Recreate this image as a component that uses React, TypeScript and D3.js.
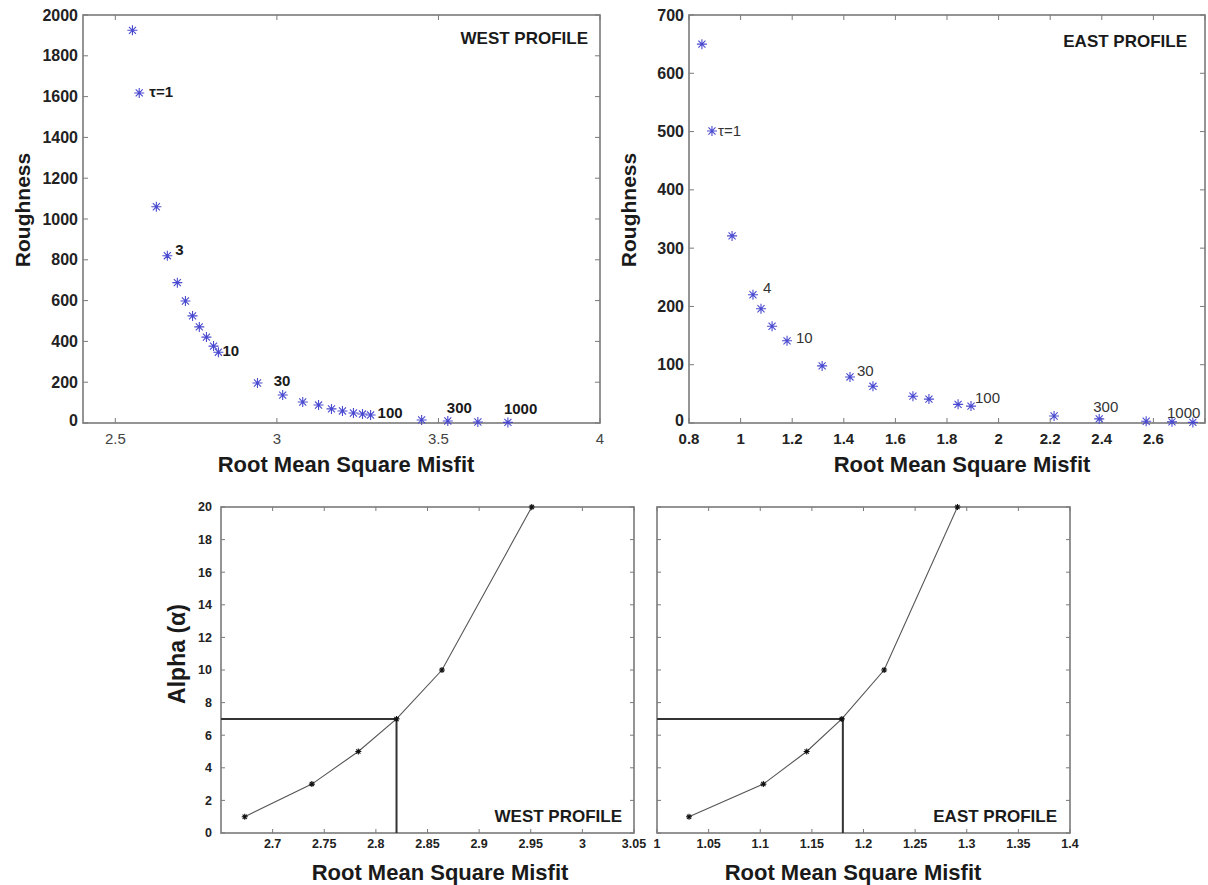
import React from "react";
import * as d3 from "d3";

// ---- data ----
const westRms = [2.553, 2.574, 2.627, 2.661, 2.692, 2.717, 2.739, 2.76, 2.782, 2.804, 2.819, 2.94, 3.018, 3.08, 3.129, 3.169, 3.203, 3.237, 3.265, 3.29, 3.448, 3.529, 3.622, 3.715];
const westRough = [1925, 1618, 1060, 820, 688, 598, 525, 471, 421, 377, 347, 196, 137, 103, 88, 69, 59, 49, 44, 39, 15, 10, 5, 3];
const westLabels = [
  { i: 1, text: "τ=1" },
  { i: 3, text: "3" },
  { i: 10, text: "10" },
  { i: 12, text: "30" },
  { i: 19, text: "100" },
  { i: 21, text: "300" },
  { i: 23, text: "1000" },
];

const eastRms = [0.85, 0.889, 0.967, 1.048, 1.079, 1.122, 1.18, 1.316, 1.424, 1.513, 1.668, 1.73, 1.843, 1.893, 2.215, 2.39, 2.572, 2.672, 2.753];
const eastRough = [650, 501, 321, 220, 196, 166, 141, 98, 79, 63, 46, 41, 32, 29, 12, 7, 3, 2, 1];
const eastLabels = [
  { i: 1, text: "τ=1" },
  { i: 3, text: "4" },
  { i: 6, text: "10" },
  { i: 8, text: "30" },
  { i: 13, text: "100" },
  { i: 15, text: "300" },
  { i: 17, text: "1000" },
];

const alphas = [1, 3, 5, 7, 10, 20];
const westAlphaRms = [2.673, 2.738, 2.783, 2.82, 2.864, 2.951];
const eastAlphaRms = [1.031, 1.103, 1.145, 1.179, 1.22, 1.291];
const chosenAlpha = 7;
const westChosenRms = 2.82;
const eastChosenRms = 1.18;

const tlXTicks = [2.5, 3, 3.5, 4];
const tlYTicks = [0, 200, 400, 600, 800, 1000, 1200, 1400, 1600, 1800, 2000];
const trXTicks = [0.8, 1, 1.2, 1.4, 1.6, 1.8, 2, 2.2, 2.4, 2.6, 2.8];
const trXLabels = ["0.8", "1", "1.2", "1.4", "1.6", "1.8", "2", "2.2", "2.4", "2.6", ""];
const trYTicks = [0, 100, 200, 300, 400, 500, 600, 700];
const blXTicks = [2.7, 2.75, 2.8, 2.85, 2.9, 2.95, 3, 3.05];
const brXTicks = [1, 1.05, 1.1, 1.15, 1.2, 1.25, 1.3, 1.35, 1.4];
const alphaTicks = [0, 2, 4, 6, 8, 10, 12, 14, 16, 18, 20];

const FONT = "'Liberation Sans', Arial, Helvetica, sans-serif";
const FRAME = "#7a7a7a";

// label offsets (px) relative to the labelled point
const westOffsets: Record<string, [number, number]> = {
  "τ=1": [10, 4], "3": [8, -1], "10": [4, 4], "30": [-9, -9], "100": [7, 3], "300": [-1, -8], "1000": [-4, -8],
};
const eastOffsets: Record<string, [number, number]> = {
  "τ=1": [6, 5], "4": [10, -2], "10": [9, 2], "30": [7, -1], "100": [4, -3], "300": [-6, -7], "1000": [-5, -4],
};

const Star = ({ x, y, r, color, w }: any) => {
  const d = [0, 45, 90, 135]
    .map((a) => {
      const rad = (a * Math.PI) / 180;
      const dx = Math.cos(rad) * r;
      const dy = Math.sin(rad) * r;
      return `M${x - dx},${y - dy}L${x + dx},${y + dy}`;
    })
    .join("");
  return <path d={d} stroke={color} strokeWidth={w} fill="none" />;
};

const Frame = ({ x, y, xTicks, yTicks, tick }: any) => {
  const [l, r] = x.range();
  const [b, t] = y.range();
  return (
    <g>
      {xTicks.map((v: number, k: number) => (
        <g key={"x" + k} stroke={FRAME} strokeWidth={1}>
          <line x1={x(v)} x2={x(v)} y1={b} y2={b - tick} />
          <line x1={x(v)} x2={x(v)} y1={t} y2={t + tick} />
        </g>
      ))}
      {yTicks.map((v: number, k: number) => (
        <g key={"y" + k} stroke={FRAME} strokeWidth={1}>
          <line x1={l} x2={l + tick} y1={y(v)} y2={y(v)} />
          <line x1={r} x2={r - tick} y1={y(v)} y2={y(v)} />
        </g>
      ))}
      <rect x={l} y={t} width={r - l} height={b - t} fill="none" stroke={FRAME} strokeWidth={1.6} />
    </g>
  );
};

const ScatterPanel = (props: any) => {
  const { left, right, top, bottom, xDomain, yDomain, xs, ys, labels, offsets, xTicks, xLabels, yTicks,
    xLabelWeight, xLabelColor, labelWeight, labelColor, title, titleX, titleY, xTitleX, yTitleY, yTitleX } = props;
  const x = d3.scaleLinear().domain(xDomain).range([left, right]);
  const y = d3.scaleLinear().domain(yDomain).range([bottom, top]);
  return (
    <g fontFamily={FONT}>
      <Frame x={x} y={y} xTicks={xTicks} yTicks={yTicks} tick={5} />
      {yTicks.map((v: number) => (
        <text key={v} x={left - 5} y={y(v) - (v === 0 ? 3 : 0)} dy="0.35em" textAnchor="end" fontSize={16}
          fontWeight="bold" fill="#222">
          {v}
        </text>
      ))}
      {xTicks.map((v: number, k: number) => (
        <text key={v} x={x(v)} y={bottom + 16} dy="0.35em" textAnchor="middle" fontSize={15}
          fontWeight={xLabelWeight} fill={xLabelColor}>
          {xLabels ? xLabels[k] : v}
        </text>
      ))}
      {xs.map((v: number, k: number) => (
        <Star key={k} x={x(v)} y={y(ys[k])} r={5} color="#4a4ad0" w={1.1} />
      ))}
      {labels.map((lb: any) => {
        const [dx, dy] = offsets[lb.text];
        return (
          <text key={lb.text} x={x(xs[lb.i]) + dx} y={y(ys[lb.i]) + dy} fontSize={15} fontWeight={labelWeight} fill={labelColor}>
            {lb.text}
          </text>
        );
      })}
      <text x={titleX} y={titleY} textAnchor="end" fontSize={17} fontWeight="bold" fill="#1a1a1a">{title}</text>
      <text x={xTitleX} y={472} textAnchor="middle" fontSize={22} fontWeight="bold" fill="#1a1a1a">Root Mean Square Misfit</text>
      <text transform={`translate(${yTitleX},${yTitleY}) rotate(-90)`} textAnchor="middle" fontSize={21}
        fontWeight="bold" fill="#1a1a1a">Roughness</text>
    </g>
  );
};

const AlphaPanel = (props: any) => {
  const { left, right, top, bottom, xDomain, xs, xTicks, chosenRms, showY, title, titleX, xTitleX } = props;
  const x = d3.scaleLinear().domain(xDomain).range([left, right]);
  const y = d3.scaleLinear().domain([0, 20]).range([bottom, top]);
  const line = d3.line<number>().x((d) => x(d)).y((d, k) => y(alphas[k]));
  return (
    <g fontFamily={FONT}>
      <Frame x={x} y={y} xTicks={xTicks} yTicks={alphaTicks} tick={4} />
      {showY &&
        alphaTicks.map((v) => (
          <text key={v} x={left - 9} y={y(v)} dy="0.35em" textAnchor="end" fontSize={12.5} fontWeight="bold" fill="#222">
            {v}
          </text>
        ))}
      {xTicks.map((v: number) => (
        <text key={v} x={x(v)} y={bottom + 11} dy="0.35em" textAnchor="middle" fontSize={12.5} fontWeight="bold" fill="#222">
          {v}
        </text>
      ))}
      <path d={line(xs) || ""} fill="none" stroke="#555" strokeWidth={1.1} />
      <path
        d={`M${left},${y(chosenAlpha)}H${x(chosenRms)}V${bottom}`}
        fill="none" stroke="#333" strokeWidth={2}
      />
      {xs.map((v: number, k: number) => (
        <Star key={k} x={x(v)} y={y(alphas[k])} r={3} color="#111" w={1.1} />
      ))}
      <text x={titleX} y={822} textAnchor="end" fontSize={17} fontWeight="bold" fill="#1a1a1a">{title}</text>
      <text x={xTitleX} y={880} textAnchor="middle" fontSize={22} fontWeight="bold" fill="#1a1a1a">Root Mean Square Misfit</text>
    </g>
  );
};

export default function App() {
  return (
    <svg width={1208} height={885} style={{ position: "absolute", left: 0, top: 0, background: "#fff" }}>
      <ScatterPanel
        left={83} right={600} top={15} bottom={423}
        xDomain={[2.4, 4]} yDomain={[0, 2000]}
        xs={westRms} ys={westRough} labels={westLabels} offsets={westOffsets}
        xTicks={tlXTicks} yTicks={tlYTicks}
        xLabelWeight="normal" xLabelColor="#444" labelWeight="bold" labelColor="#1a1a1a"
        title="WEST PROFILE" titleX={588} titleY={44}
        xTitleX={346} yTitleX={30} yTitleY={210}
      />
      <ScatterPanel
        left={689} right={1205} top={15} bottom={423}
        xDomain={[0.8, 2.8]} yDomain={[0, 700]}
        xs={eastRms} ys={eastRough} labels={eastLabels} offsets={eastOffsets}
        xTicks={trXTicks} xLabels={trXLabels} yTicks={trYTicks}
        xLabelWeight="bold" xLabelColor="#222" labelWeight="normal" labelColor="#333"
        title="EAST PROFILE" titleX={1187} titleY={47}
        xTitleX={962} yTitleX={636} yTitleY={210}
      />
      <AlphaPanel
        left={221} right={634} top={507} bottom={833}
        xDomain={[2.65, 3.05]} xs={westAlphaRms} xTicks={blXTicks}
        chosenRms={westChosenRms} showY={true}
        title="WEST PROFILE" titleX={622} xTitleX={440}
      />
      <AlphaPanel
        left={657} right={1070} top={507} bottom={833}
        xDomain={[1, 1.4]} xs={eastAlphaRms} xTicks={brXTicks}
        chosenRms={eastChosenRms} showY={false}
        title="EAST PROFILE" titleX={1057} xTitleX={853}
      />
      <text transform="translate(185,654) rotate(-90)" textAnchor="middle" fontFamily={FONT} fontSize={23}
        fontWeight="bold" fill="#1a1a1a">Alpha (α)</text>
    </svg>
  );
}
